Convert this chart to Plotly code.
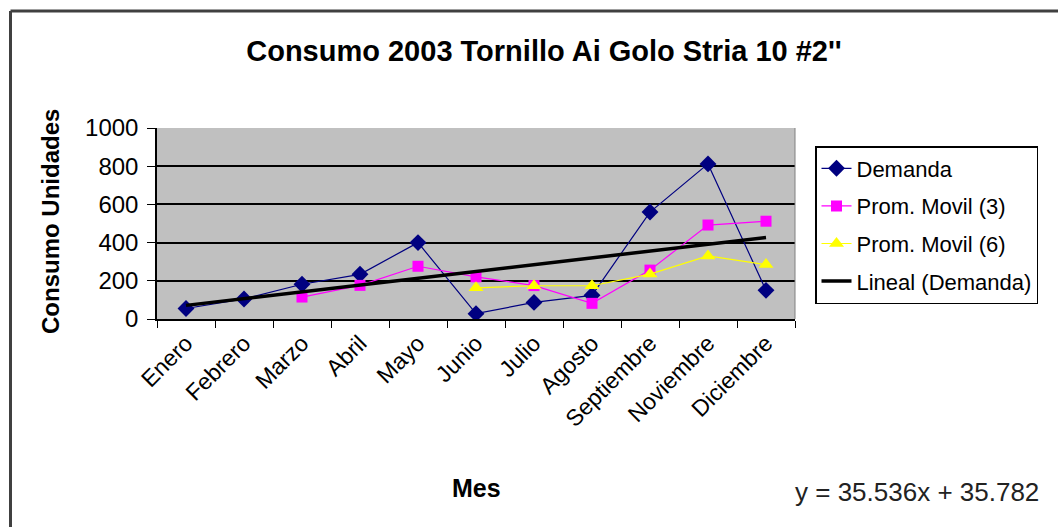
import plotly.graph_objects as go

# Monthly consumption data (Octubre has no record)
meses = ["Enero", "Febrero", "Marzo", "Abril", "Mayo", "Junio", "Julio",
         "Agosto", "Septiembre", "Noviembre", "Diciembre"]
demanda = [55, 105, 182, 234, 400, 28, 87, 124, 560, 812, 150]
prom_movil_3 = [None, None, 115, 176, 276, 221, 175, 82, 256, 492, 512]
prom_movil_6 = [None, None, None, None, None, 163, 174, 174, 235, 330, 285]

# Linear trend of the demand series
pendiente = 35.536
intercepto = 35.782
tendencia = [pendiente * (i + 1) + intercepto for i in range(len(meses))]

y_ticks = [0, 200, 400, 600, 800, 1000]

W, H = 1058, 527
ML, MR, MT, MB = 157, 263, 128, 208
PW, PH = W - ML - MR, H - MT - MB


def px_x(x):
    return (x - ML) / PW


def px_y(y):
    return (H - MB - y) / PH


FONT = "Arial, Liberation Sans, sans-serif"

fig = go.Figure()

fig.add_trace(go.Scatter(
    x=meses, y=demanda, name="Demanda", mode="lines+markers",
    line=dict(color="#000080", width=1.2),
    marker=dict(symbol="diamond", size=13, color="#000080"),
    legendgroup="a",
))
fig.add_trace(go.Scatter(
    x=meses, y=prom_movil_3, name="Prom. Movil (3)", mode="lines+markers",
    line=dict(color="#FF00FF", width=1.2),
    marker=dict(symbol="square", size=11, color="#FF00FF"),
    legendgroup="b",
))
fig.add_trace(go.Scatter(
    x=meses, y=prom_movil_6, name="Prom. Movil (6)", mode="lines+markers",
    line=dict(color="#FFFF00", width=1.2),
    marker=dict(symbol="triangle-up", size=13, color="#FFFF00"),
    legendgroup="c",
))
fig.add_trace(go.Scatter(
    x=meses, y=tendencia, name="Lineal (Demanda)", mode="lines",
    line=dict(color="#000000", width=3.5),
    legendgroup="d",
))

fig.update_layout(
    width=W, height=H,
    margin=dict(l=ML, r=MR, t=MT, b=MB),
    paper_bgcolor="white",
    plot_bgcolor="#C0C0C0",
    font=dict(family=FONT, color="black", size=21),
    title=dict(
        text="<b>Consumo 2003 Tornillo Ai Golo Stria 10 #2''</b>",
        x=544 / W, xanchor="center", xref="container",
        y=1 - 51 / H, yanchor="middle", yref="container",
        font=dict(family=FONT, size=29, color="black"),
    ),
    legend=dict(
        x=px_x(815), y=px_y(146), xanchor="left", yanchor="top",
        bgcolor="white", bordercolor="black", borderwidth=1.5,
        font=dict(family=FONT, size=22, color="black"),
        traceorder="grouped", tracegroupgap=6,
    ),
    showlegend=True,
)

fig.update_xaxes(
    type="category", categoryorder="array", categoryarray=meses,
    range=[-0.5, len(meses) - 0.5],
    showgrid=False, showline=True, linecolor="black", linewidth=1.5,
    ticks="outside", tickson="boundaries", ticklen=7, tickcolor="black",
    tickangle=-45, tickfont=dict(family=FONT, size=23, color="black"),
    mirror=False, zeroline=False,
)
fig.update_yaxes(
    range=[0, 1000], tickvals=y_ticks,
    showgrid=True, gridcolor="black", gridwidth=2,
    showline=True, linecolor="black", linewidth=1.5,
    ticks="outside", ticklen=8, tickcolor="black",
    ticklabelstandoff=4,
    tickfont=dict(family=FONT, size=24, color="black"),
    zeroline=False,
)

# Axis titles and trend equation
fig.add_annotation(
    text="<b>Mes</b>", xref="paper", yref="paper",
    x=0.5, y=px_y(488), xanchor="center", yanchor="middle",
    showarrow=False, font=dict(family=FONT, size=25, color="black"),
)
fig.add_annotation(
    text="<b>Consumo Unidades</b>", xref="paper", yref="paper",
    x=px_x(50), y=px_y(222), xanchor="center", yanchor="middle",
    textangle=-90, showarrow=False,
    font=dict(family=FONT, size=24, color="black"),
)
fig.add_annotation(
    text=f"y = {pendiente}x + {intercepto}", xref="paper", yref="paper",
    x=px_x(917), y=px_y(492), xanchor="center", yanchor="middle",
    showarrow=False, font=dict(family=FONT, size=26, color="#222222"),
)

# Plot-area right border and chart frame
fig.add_shape(type="line", xref="paper", yref="paper",
              x0=1, x1=1, y0=0, y1=1, line=dict(color="#808080", width=1))
fig.add_shape(type="line", xref="paper", yref="paper",
              x0=px_x(10.5), x1=px_x(W), y0=px_y(11), y1=px_y(11),
              line=dict(color="#404040", width=3))
fig.add_shape(type="line", xref="paper", yref="paper",
              x0=px_x(10.5), x1=px_x(10.5), y0=px_y(11), y1=px_y(H),
              line=dict(color="#404040", width=3))

fig.write_html("out.html")
